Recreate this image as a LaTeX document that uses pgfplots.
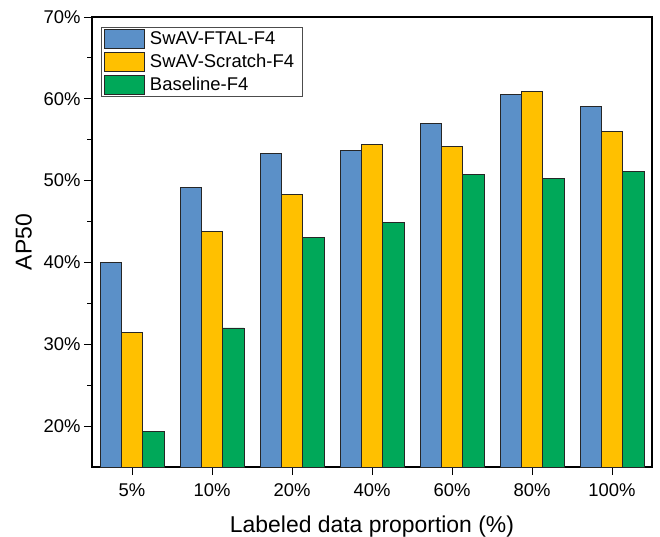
\documentclass[border=0pt]{standalone}
\usepackage{pgfplots}
\pgfplotsset{compat=1.18}
\usepackage{fontspec}
\setmainfont{Liberation Sans}
\definecolor{cblue}{RGB}{91,144,200}
\definecolor{cyellow}{RGB}{255,192,0}
\definecolor{cgreen}{RGB}{0,168,89}
\begin{document}
\begin{tikzpicture}
\begin{axis}[
  name=ax,
  scale only axis,
  width=560bp, height=450bp,
  xmin=-0.5, xmax=6.5,
  ymin=15, ymax=70,
  ybar=0pt,
  bar width=21.33bp,
  xtick={0,1,2,3,4,5,6},
  xticklabels={5\%,10\%,20\%,40\%,60\%,80\%,100\%},
  ytick={20,30,40,50,60,70},
  yticklabels={20\%,30\%,40\%,50\%,60\%,70\%},
  minor ytick={25,35,45,55,65},
  xtick pos=bottom, ytick pos=left,
  tick align=outside,
  major tick length=8bp, minor tick length=4.5bp,
  every tick/.style={black, line width=1pt},
  axis line style={line width=1.3pt},
  ticklabel style={font=\fontsize{18.5}{20}\selectfont},
  xticklabel style={yshift=-5bp},
  xlabel={Labeled data proportion (\%)},
  ylabel={AP50},
  label style={font=\fontsize{23}{26}\selectfont},
  xlabel style={yshift=-12bp},
  ylabel style={yshift=5bp},
  legend style={at={(0,1)}, anchor=north west, xshift=9bp, yshift=-10bp,
    font=\fontsize{18.5}{20}\selectfont, draw=black!70, line width=0.6pt,
    inner xsep=3bp, inner ysep=1.5bp, row sep=3.5bp,
    nodes={inner xsep=5bp},
    legend cell align=left},
  every axis plot/.append style={draw=black!85, line width=0.7pt,
    legend image code/.code={\draw[##1] (0bp,-9.5bp) rectangle (40bp,9.5bp);}},
]
\addplot[fill=cblue] coordinates {(0,40.0) (1,49.2) (2,53.3) (3,53.7) (4,57.0) (5,60.5) (6,59.1)};
\addplot[fill=cyellow] coordinates {(0,31.4) (1,43.8) (2,48.3) (3,54.4) (4,54.2) (5,60.9) (6,56.0)};
\addplot[fill=cgreen] coordinates {(0,19.3) (1,32.0) (2,43.1) (3,44.9) (4,50.8) (5,50.3) (6,51.1)};
\legend{SwAV-FTAL-F4, SwAV-Scratch-F4, Baseline-F4}
\end{axis}
\pgfresetboundingbox
\path[use as bounding box] ([xshift=-92bp,yshift=-70bp]ax.south west) rectangle ([xshift=8bp,yshift=17bp]ax.north east);
\end{tikzpicture}
\end{document}
